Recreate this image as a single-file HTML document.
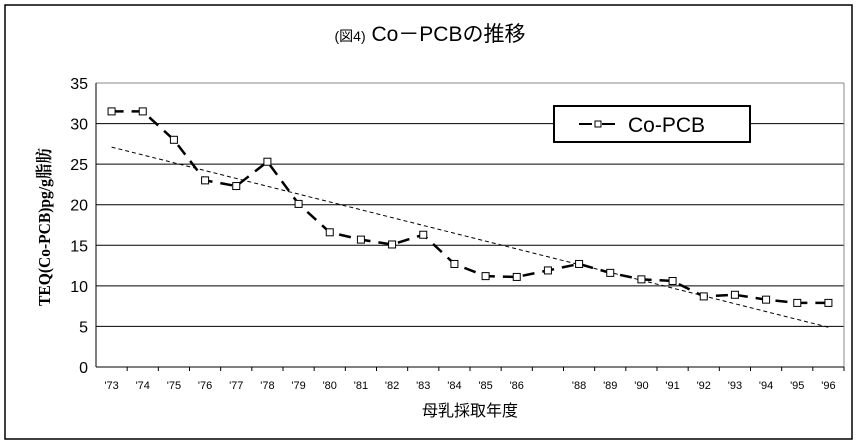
<!DOCTYPE html>
<html><head><meta charset="utf-8"><style>
body{margin:0;background:#fff;}
svg{display:block;font-family:"Liberation Sans","Noto Sans CJK JP",sans-serif;}
</style></head><body>
<svg id="chart" width="859" height="443">
<rect x="5" y="5" width="847" height="434" fill="#fff" stroke="#000" stroke-width="1.5"/>
<text x="430" y="41" text-anchor="middle" font-size="21"><tspan font-size="14">(図4)</tspan> Co－PCBの推移</text>
<g id="grid"></g>
<g id="axes"></g>
<g id="series"></g>
<text x="0" y="0" transform="translate(50,227) rotate(-90)" text-anchor="middle" font-size="17" font-weight="bold" textLength="158" lengthAdjust="spacingAndGlyphs" font-family="'Liberation Serif','Noto Serif CJK SC',serif">TEQ(Co-PCB)pg/g脂肪</text>
<text x="470" y="416" text-anchor="middle" font-size="16">母乳採取年度</text>
<g>
<rect x="554" y="106" width="196" height="36" fill="#fff" stroke="#000" stroke-width="2"/>
<line x1="579" y1="124" x2="615" y2="124" stroke="#000" stroke-width="2" stroke-dasharray="13,10"/>
<rect x="595" y="121" width="6" height="6" fill="#fff" stroke="#000"/>
<text x="628" y="132" font-size="21">Co-PCB</text>
</g>
</svg>
<script>
const categories=["'73","'74","'75","'76","'77","'78","'79","'80","'81","'82","'83","'84","'85","'86","","'88","'89","'90","'91","'92","'93","'94","'95","'96"];
const values=[31.5,31.5,28,23,22.3,25.3,20.1,16.6,15.7,15.1,16.3,12.7,11.2,11.1,11.9,12.7,11.6,10.8,10.6,8.7,8.9,8.3,7.9,7.9];
const trend=[27.1,4.9];
const yTicks=[0,5,10,15,20,25,30,35];
const NS="http://www.w3.org/2000/svg";
const L=96,R=844,T=83,B=367,yMax=35;
const bw=(R-L)/categories.length;
const x=i=>L+bw*(i+0.5);
const y=v=>B-(v/yMax)*(B-T);
function mk(tag,attrs,parent){const e=document.createElementNS(NS,tag);for(const k in attrs)e.setAttribute(k,attrs[k]);parent.appendChild(e);return e;}
const grid=document.getElementById('grid'),axes=document.getElementById('axes'),ser=document.getElementById('series');
yTicks.forEach(t=>{
  if(t>0){const g=mk('line',{x1:L,x2:R,y1:y(t),y2:y(t),stroke:t===yMax?'#888':'#000','stroke-width':1},grid);
  
  }
  const tx=mk('text',{x:L-8,y:y(t)+6,'text-anchor':'end','font-size':16},axes);tx.textContent=t;
  
  
});
const ya=mk('line',{x1:L,x2:L,y1:T,y2:B,stroke:'#000'},axes);


const ra=mk('line',{x1:R,x2:R,y1:T,y2:B,stroke:'#888'},axes);


const xa=mk('line',{x1:L,x2:R,y1:B,y2:B,stroke:'#000'},axes);


categories.forEach((c,i)=>{
  const tk=mk('line',{x1:L+bw*(i+1),x2:L+bw*(i+1),y1:B,y2:B+4,stroke:'#000'},axes);
  
  
  const t=mk('text',{x:x(i),y:B+22,'text-anchor':'middle','font-size':11},axes);t.textContent=c;
  
  
});
const tl=mk('line',{x1:x(0),y1:y(trend[0]),x2:x(categories.length-1),y2:y(trend[1]),stroke:'#000','stroke-width':1,'stroke-dasharray':'4,3'},ser);


const pl=mk('polyline',{points:values.map((v,i)=>x(i)+','+y(v)).join(' '),fill:'none',stroke:'#000','stroke-width':2.5,'stroke-dasharray':'12,8'},ser);


values.forEach((v,i)=>{
  const r=mk('rect',{x:x(i)-3.5,y:y(v)-3.5,width:7,height:7,fill:'#fff',stroke:'#000','stroke-width':1},ser);
  
  
});
</script>
</body></html>
